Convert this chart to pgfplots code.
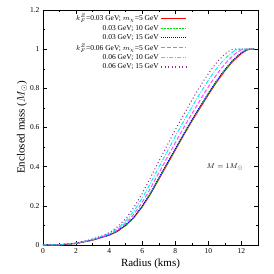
\documentclass[border=0pt]{standalone}
\usepackage{pgfplots}
\pgfplotsset{compat=1.18}
\usepackage{pgfplotstable}
\usepackage{fontspec}
\setmainfont{Liberation Serif}
\definecolor{gpgreen}{rgb}{0,0.85,0}
\definecolor{gpmag}{rgb}{1,0.3,1}
\definecolor{gpcyan}{rgb}{0,0.95,0.95}
\definecolor{gppurple}{rgb}{0.6,0.15,0.6}
\pgfplotstableread{
M      ra     rb     rc     rd     re     rf
0      0      0      0      0      0      0
0.001  1      0.997  0.994  0.97   0.945  0.92
0.008  2      1.994  1.988  1.94   1.89   1.84
0.025  3      2.991  2.982  2.91   2.835  2.76
0.05   4      3.988  3.976  3.88   3.78   3.68
0.07   4.5    4.487  4.473  4.365  4.253  4.14
0.10   5      4.985  4.97   4.85   4.725  4.6
0.14   5.5    5.484  5.467  5.335  5.198  5.06
0.195  6      5.982  5.964  5.82   5.67   5.52
0.26   6.5    6.481  6.461  6.305  6.143  5.98
0.335  7      6.979  6.958  6.79   6.615  6.44
0.41   7.5    7.478  7.455  7.275  7.088  6.9
0.485  8      7.976  7.952  7.76   7.56   7.36
0.56   8.5    8.475  8.449  8.245  8.033  7.82
0.632  9      8.973  8.946  8.73   8.505  8.28
0.70   9.5    9.472  9.443  9.215  8.978  8.74
0.768  10     9.97   9.94   9.7    9.45   9.2
0.832  10.5   10.469 10.437 10.185 9.923  9.66
0.89   11     10.967 10.934 10.67  10.395 10.12
0.94   11.5   11.466 11.431 11.155 10.868 10.58
0.978  12     11.964 11.928 11.64  11.34  11.04
0.994  12.3   12.263 12.226 11.931 11.624 11.316
1.0    12.5   12.463 12.425 12.125 11.813 11.5
1.0    12.8   12.8   12.8   12.8   12.8   12.8
}\datatab
\begin{document}
\begin{tikzpicture}
\begin{axis}[
  scale only axis,
  width=215pt, height=235pt,
  xmin=0, xmax=13, ymin=0, ymax=1.2,
  xtick={0,2,...,12},
  minor xtick={1,3,...,13},
  ytick={0,0.2,...,1.2},
  minor ytick={0.1,0.3,...,1.1},
  yticklabels={0,0.2,0.4,0.6,0.8,1,1.2},
  tick align=inside,
  major tick length=4pt,
  minor tick length=2pt,
  axis line style={line width=0.9pt},
  every tick/.style={black, line width=0.5pt},
  tick label style={font=\fontsize{7.5}{8}\selectfont},
  /pgf/number format/assume math mode=true,
  xlabel={Radius (kms)},
  ylabel={Enclosed mass ($M_\odot$)},
  label style={font=\fontsize{11}{12}\selectfont},
  xlabel style={yshift=2pt},
  ylabel style={yshift=-4pt},
  legend style={draw=none, fill=none, at={(0.675,0.995)}, anchor=north east,
    font=\fontsize{7.5}{8}\selectfont, row sep=-1.2pt, inner sep=1pt},
  legend cell align=right,
  legend plot pos=right,
  legend image code/.code={\draw[#1, line width=1.1pt] (0pt,0pt) -- (25pt,0pt);},
]
\addplot[red, line width=1pt] table[x=ra,y=M]{\datatab};
\addlegendentry{$k_F^Z$=0.03 GeV; $m_\chi$=5 GeV}
\addplot[gpgreen, line width=1pt, dash pattern=on 2pt off 1pt] table[x=rb,y=M]{\datatab};
\addlegendentry{0.03 GeV; 10 GeV}
\addplot[blue, line width=1pt, dash pattern=on 1pt off 1pt] table[x=rc,y=M]{\datatab};
\addlegendentry{0.03 GeV; 15 GeV}
\addplot[gpmag, line width=1pt, dash pattern=on 4pt off 2pt] table[x=rd,y=M]{\datatab};
\addlegendentry{$k_F^Z$=0.06 GeV; $m_\chi$=5 GeV}
\addplot[gpcyan, line width=1pt, dash pattern=on 4pt off 1.5pt on 1pt off 1.5pt] table[x=re,y=M]{\datatab};
\addlegendentry{0.06 GeV; 10 GeV}
\addplot[gppurple, line width=1pt, dash pattern=on 1pt off 2.5pt] table[x=rf,y=M]{\datatab};
\addlegendentry{0.06 GeV; 15 GeV}
\node[font=\fontsize{7.5}{8}\selectfont] at (axis cs:11.0,0.40) {$M=1M_\odot$};
\end{axis}
\path ([xshift=-43pt,yshift=-29pt]current axis.south west) rectangle ([xshift=16pt,yshift=10pt]current axis.north east);
\end{tikzpicture}
\end{document}
